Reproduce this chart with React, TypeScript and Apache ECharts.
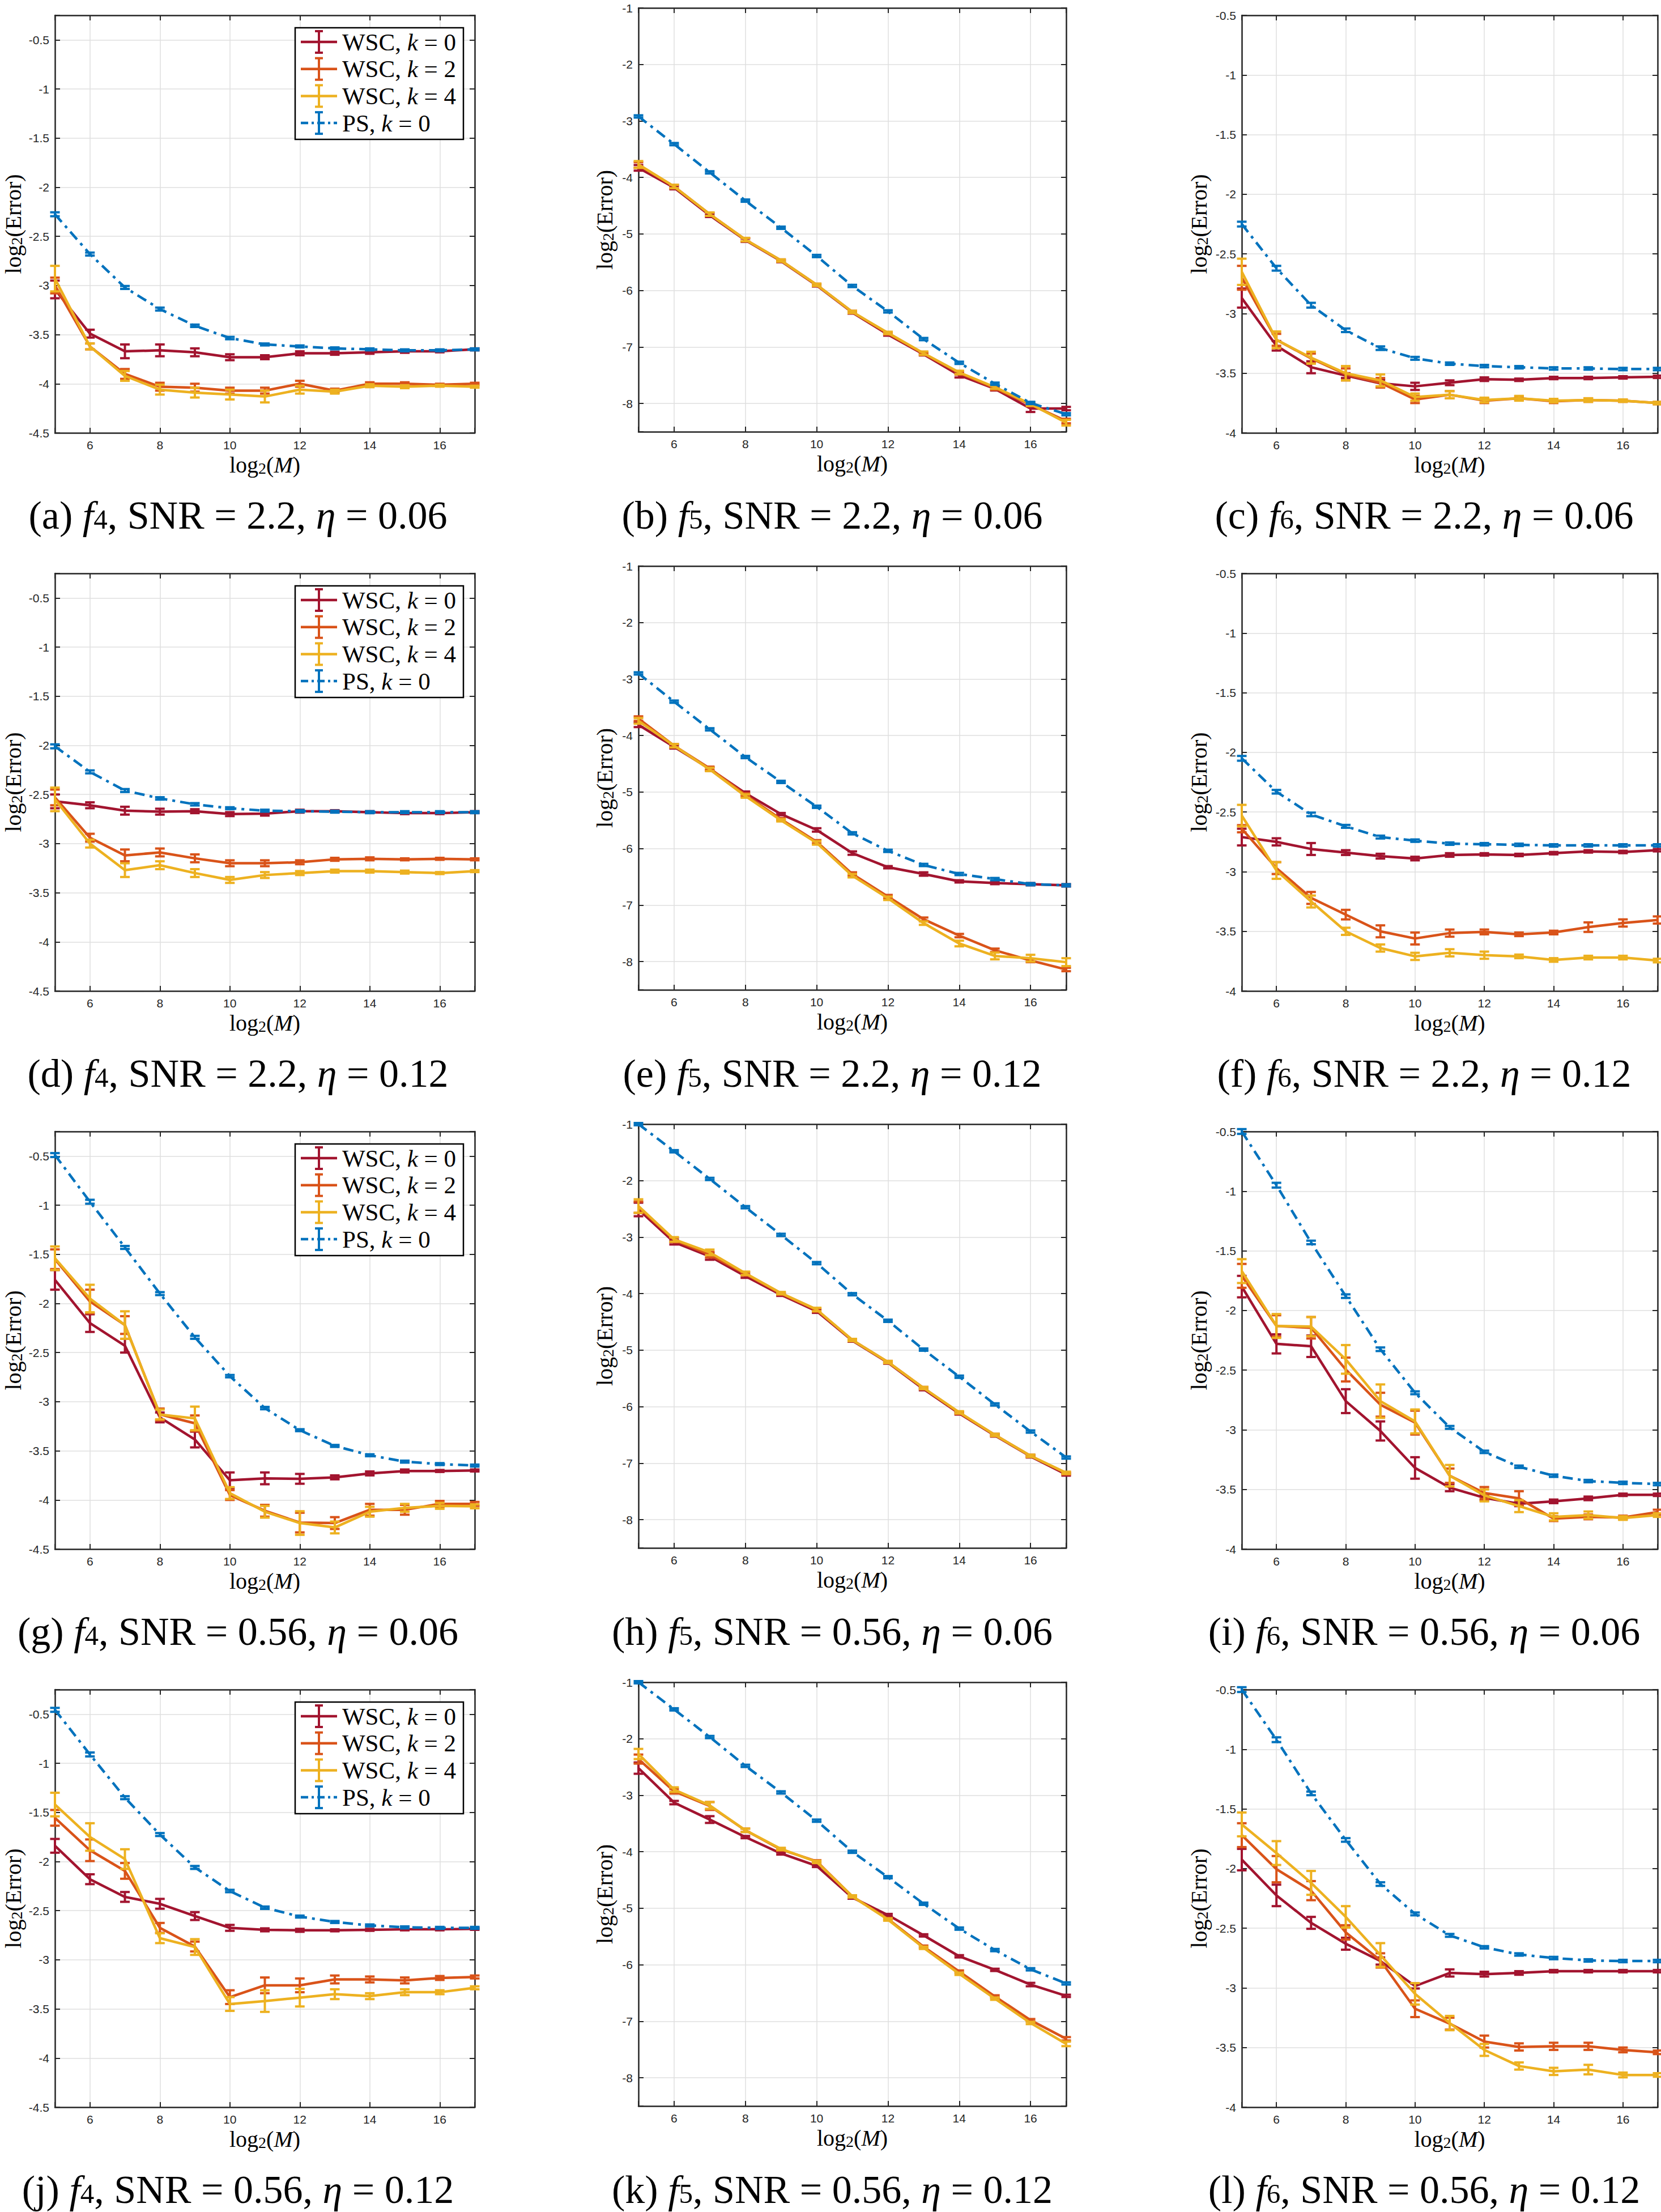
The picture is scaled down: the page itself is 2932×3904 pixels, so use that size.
import React, { useEffect, useRef } from 'react';
import * as echarts from 'echarts';

// ---------------- data ----------------
const X = [5, 6, 7, 8, 9, 10, 11, 12, 13, 14, 15, 16, 17];
const LEGEND_METHOD = ['WSC', 'WSC', 'WSC', 'PS'];
const LEGEND_K = ['0', '2', '4', '0'];
const COLORS = ['#A2142F', '#D95319', '#EDB120', '#0072BD'];
const PANEL_IDS = ['a', 'b', 'c', 'd', 'e', 'f', 'g', 'h', 'i', 'j', 'k', 'l'];
const COL_F = ['4', '5', '6'];
const ROW_SNR = ['2.2', '2.2', '0.56', '0.56'];
const ROW_ETA = ['0.06', '0.12', '0.06', '0.12'];
const X_TICK_STEP = 2;
const Y_MIN = [-4.5, -8.5, -4];
const Y_MAX = [-0.25, -1, -0.5];
const Y_TICK_STEP = [0.5, 1, 0.5];

// (a) f4, SNR 2.2, eta 0.06
const A_K0 = [-3.04, -3.49, -3.67, -3.66, -3.68, -3.73, -3.73, -3.69, -3.69, -3.68, -3.67, -3.67, -3.65];
const A_K0_E = [0.09, 0.04, 0.07, 0.06, 0.04, 0.03, 0.02, 0.02, 0.015, 0.015, 0.015, 0.01, 0.01];
const A_K2 = [-3.0, -3.62, -3.9, -4.03, -4.04, -4.07, -4.07, -4.0, -4.07, -4.0, -4.0, -4.01, -4.0];
const A_K2_E = [0.08, 0.03, 0.05, 0.04, 0.04, 0.03, 0.03, 0.03, 0.02, 0.015, 0.015, 0.01, 0.01];
const A_K4 = [-2.93, -3.62, -3.92, -4.06, -4.09, -4.11, -4.13, -4.06, -4.08, -4.02, -4.03, -4.02, -4.03];
const A_K4_E = [0.13, 0.03, 0.05, 0.05, 0.05, 0.05, 0.06, 0.04, 0.02, 0.015, 0.015, 0.01, 0.01];
const A_PS = [-2.275, -2.68, -3.02, -3.24, -3.41, -3.535, -3.6, -3.62, -3.64, -3.65, -3.66, -3.66, -3.65];
const A_PS_E = [0.02, 0.015, 0.015, 0.015, 0.012, 0.012, 0.01, 0.01, 0.01, 0.01, 0.01, 0.01, 0.01];

// (b) f5, SNR 2.2, eta 0.06
const B_K0 = [-3.83, -4.18, -4.67, -5.11, -5.48, -5.91, -6.39, -6.78, -7.13, -7.5, -7.74, -8.09, -8.09];
const B_K0_E = [0.05, 0.03, 0.03, 0.03, 0.02, 0.02, 0.02, 0.02, 0.02, 0.04, 0.03, 0.06, 0.03];
const B_K2 = [-3.78, -4.16, -4.65, -5.1, -5.47, -5.9, -6.38, -6.76, -7.12, -7.46, -7.73, -8.02, -8.31];
const B_K2_E = [0.05, 0.03, 0.03, 0.03, 0.02, 0.02, 0.02, 0.02, 0.02, 0.03, 0.03, 0.03, 0.04];
const B_K4 = [-3.77, -4.16, -4.65, -5.1, -5.47, -5.9, -6.38, -6.75, -7.11, -7.45, -7.71, -8.01, -8.34];
const B_K4_E = [0.06, 0.03, 0.03, 0.03, 0.02, 0.02, 0.02, 0.02, 0.03, 0.03, 0.03, 0.03, 0.05];
const B_PS = [-2.92, -3.41, -3.91, -4.41, -4.89, -5.39, -5.92, -6.37, -6.86, -7.28, -7.65, -7.99, -8.19];
const B_PS_E = [0.02, 0.02, 0.02, 0.02, 0.02, 0.02, 0.02, 0.02, 0.02, 0.02, 0.02, 0.02, 0.02];

// (c) f6, SNR 2.2, eta 0.06
const C_K0 = [-2.87, -3.27, -3.45, -3.52, -3.585, -3.61, -3.58, -3.55, -3.555, -3.54, -3.54, -3.535, -3.53];
const C_K0_E = [0.08, 0.04, 0.05, 0.02, 0.03, 0.03, 0.02, 0.015, 0.01, 0.01, 0.01, 0.01, 0.01];
const C_K2 = [-2.7, -3.22, -3.375, -3.51, -3.58, -3.72, -3.68, -3.73, -3.71, -3.735, -3.725, -3.73, -3.75];
const C_K2_E = [0.1, 0.05, 0.04, 0.05, 0.04, 0.03, 0.03, 0.02, 0.015, 0.015, 0.015, 0.01, 0.01];
const C_K4 = [-2.65, -3.22, -3.37, -3.5, -3.56, -3.7, -3.68, -3.725, -3.71, -3.73, -3.725, -3.73, -3.75];
const C_K4_E = [0.11, 0.07, 0.05, 0.06, 0.05, 0.03, 0.03, 0.02, 0.02, 0.015, 0.015, 0.01, 0.01];
const C_PS = [-2.25, -2.62, -2.93, -3.14, -3.29, -3.375, -3.42, -3.44, -3.45, -3.46, -3.46, -3.465, -3.465];
const C_PS_E = [0.02, 0.02, 0.02, 0.015, 0.015, 0.012, 0.01, 0.01, 0.01, 0.01, 0.01, 0.01, 0.01];

// (d) f4, SNR 2.2, eta 0.12
const D_K0 = [-2.57, -2.61, -2.665, -2.675, -2.67, -2.7, -2.695, -2.67, -2.67, -2.68, -2.69, -2.69, -2.68];
const D_K0_E = [0.07, 0.03, 0.04, 0.03, 0.02, 0.02, 0.02, 0.015, 0.01, 0.01, 0.01, 0.01, 0.01];
const D_K2 = [-2.53, -2.94, -3.12, -3.09, -3.15, -3.2, -3.2, -3.19, -3.16, -3.155, -3.16, -3.155, -3.16];
const D_K2_E = [0.08, 0.04, 0.06, 0.04, 0.04, 0.03, 0.03, 0.02, 0.015, 0.015, 0.01, 0.01, 0.01];
const D_K4 = [-2.55, -3.0, -3.27, -3.22, -3.3, -3.37, -3.32, -3.3, -3.28, -3.28, -3.29, -3.3, -3.28];
const D_K4_E = [0.12, 0.04, 0.07, 0.04, 0.04, 0.03, 0.03, 0.02, 0.015, 0.015, 0.015, 0.01, 0.01];
const D_PS = [-2.01, -2.27, -2.46, -2.54, -2.6, -2.64, -2.665, -2.67, -2.675, -2.68, -2.68, -2.68, -2.68];
const D_PS_E = [0.02, 0.015, 0.015, 0.012, 0.012, 0.01, 0.01, 0.01, 0.01, 0.01, 0.01, 0.01, 0.01];

// (e) f5, SNR 2.2, eta 0.12
const E_K0 = [-3.81, -4.2, -4.59, -5.02, -5.39, -5.67, -6.08, -6.33, -6.45, -6.58, -6.61, -6.63, -6.65];
const E_K0_E = [0.04, 0.03, 0.03, 0.03, 0.02, 0.03, 0.03, 0.02, 0.03, 0.02, 0.02, 0.02, 0.02];
const E_K2 = [-3.7, -4.18, -4.58, -5.05, -5.48, -5.88, -6.45, -6.85, -7.25, -7.54, -7.8, -7.98, -8.14];
const E_K2_E = [0.04, 0.03, 0.03, 0.03, 0.02, 0.03, 0.03, 0.03, 0.03, 0.03, 0.03, 0.03, 0.03];
const E_K4 = [-3.74, -4.18, -4.6, -5.07, -5.5, -5.9, -6.48, -6.88, -7.32, -7.68, -7.9, -7.94, -8.01];
const E_K4_E = [0.05, 0.03, 0.03, 0.03, 0.02, 0.03, 0.03, 0.03, 0.03, 0.05, 0.06, 0.06, 0.07];
const E_PS = [-2.9, -3.4, -3.89, -4.38, -4.82, -5.26, -5.73, -6.04, -6.29, -6.45, -6.54, -6.63, -6.65];
const E_PS_E = [0.02, 0.02, 0.02, 0.02, 0.02, 0.02, 0.02, 0.02, 0.02, 0.02, 0.02, 0.02, 0.02];

// (f) f6, SNR 2.2, eta 0.12
const F_K0 = [-2.71, -2.75, -2.81, -2.84, -2.87, -2.89, -2.86, -2.855, -2.86, -2.845, -2.83, -2.835, -2.82];
const F_K0_E = [0.07, 0.03, 0.05, 0.02, 0.02, 0.015, 0.015, 0.01, 0.01, 0.01, 0.01, 0.01, 0.01];
const F_K2 = [-2.64, -2.97, -3.22, -3.36, -3.5, -3.56, -3.515, -3.505, -3.525, -3.51, -3.465, -3.43, -3.405];
const F_K2_E = [0.03, 0.05, 0.05, 0.04, 0.05, 0.05, 0.03, 0.02, 0.015, 0.015, 0.04, 0.03, 0.03];
const F_K4 = [-2.53, -2.99, -3.25, -3.5, -3.64, -3.71, -3.68, -3.7, -3.71, -3.74, -3.72, -3.72, -3.745];
const F_K4_E = [0.09, 0.07, 0.05, 0.03, 0.03, 0.03, 0.03, 0.03, 0.015, 0.015, 0.015, 0.015, 0.015];
const F_PS = [-2.05, -2.33, -2.52, -2.62, -2.71, -2.74, -2.765, -2.77, -2.775, -2.78, -2.78, -2.78, -2.78];
const F_PS_E = [0.02, 0.015, 0.015, 0.012, 0.012, 0.01, 0.01, 0.01, 0.01, 0.01, 0.01, 0.01, 0.01];

// (g) f4, SNR 0.56, eta 0.06
const G_K0 = [-1.76, -2.2, -2.43, -3.16, -3.385, -3.8, -3.78, -3.785, -3.77, -3.73, -3.705, -3.705, -3.7];
const G_K0_E = [0.1, 0.09, 0.07, 0.05, 0.08, 0.08, 0.06, 0.05, 0.02, 0.02, 0.015, 0.01, 0.01];
const G_K2 = [-1.55, -1.98, -2.22, -3.13, -3.22, -3.95, -4.11, -4.23, -4.235, -4.1, -4.1, -4.04, -4.04];
const G_K2_E = [0.1, 0.12, 0.09, 0.06, 0.08, 0.05, 0.06, 0.1, 0.06, 0.06, 0.05, 0.03, 0.02];
const G_K4 = [-1.54, -1.95, -2.22, -3.13, -3.17, -3.93, -4.12, -4.235, -4.28, -4.12, -4.08, -4.06, -4.065];
const G_K4_E = [0.12, 0.14, 0.14, 0.05, 0.12, 0.06, 0.06, 0.12, 0.06, 0.05, 0.04, 0.03, 0.02];
const G_PS = [-0.49, -0.965, -1.43, -1.9, -2.345, -2.74, -3.065, -3.29, -3.45, -3.545, -3.61, -3.635, -3.65];
const G_PS_E = [0.02, 0.02, 0.015, 0.015, 0.015, 0.012, 0.012, 0.01, 0.01, 0.01, 0.01, 0.01, 0.01];

// (h) f5, SNR 0.56, eta 0.06
const H_K0 = [-2.51, -3.09, -3.34, -3.69, -4.02, -4.31, -4.83, -5.22, -5.69, -6.12, -6.51, -6.88, -7.2];
const H_K0_E = [0.12, 0.04, 0.06, 0.03, 0.02, 0.03, 0.02, 0.02, 0.02, 0.02, 0.02, 0.02, 0.02];
const H_K2 = [-2.47, -3.05, -3.31, -3.65, -4.0, -4.29, -4.82, -5.21, -5.67, -6.11, -6.5, -6.87, -7.18];
const H_K2_E = [0.1, 0.04, 0.05, 0.03, 0.02, 0.03, 0.02, 0.02, 0.02, 0.02, 0.02, 0.02, 0.02];
const H_K4 = [-2.45, -3.04, -3.27, -3.64, -3.99, -4.28, -4.82, -5.21, -5.67, -6.1, -6.5, -6.87, -7.17];
const H_K4_E = [0.12, 0.04, 0.05, 0.03, 0.02, 0.03, 0.02, 0.02, 0.02, 0.02, 0.02, 0.02, 0.02];
const H_PS = [-1.0, -1.48, -1.97, -2.47, -2.96, -3.46, -4.01, -4.48, -4.99, -5.47, -5.96, -6.44, -6.9];
const H_PS_E = [0.02, 0.02, 0.02, 0.02, 0.02, 0.02, 0.02, 0.02, 0.02, 0.02, 0.02, 0.02, 0.02];

// (i) f6, SNR 0.56, eta 0.06
const I_K0 = [-1.8, -2.28, -2.3, -2.76, -3.01, -3.32, -3.485, -3.57, -3.62, -3.6, -3.575, -3.545, -3.545];
const I_K0_E = [0.09, 0.08, 0.09, 0.1, 0.08, 0.09, 0.03, 0.02, 0.02, 0.015, 0.015, 0.01, 0.01];
const I_K2 = [-1.71, -2.13, -2.145, -2.495, -2.79, -2.94, -3.385, -3.53, -3.575, -3.745, -3.73, -3.735, -3.69];
const I_K2_E = [0.1, 0.09, 0.09, 0.1, 0.1, 0.1, 0.06, 0.05, 0.06, 0.02, 0.02, 0.015, 0.02];
const I_K4 = [-1.67, -2.13, -2.135, -2.41, -2.76, -2.93, -3.385, -3.55, -3.64, -3.73, -3.715, -3.74, -3.715];
const I_K4_E = [0.1, 0.1, 0.08, 0.12, 0.14, 0.1, 0.09, 0.05, 0.05, 0.03, 0.03, 0.015, 0.015];
const I_PS = [-0.5, -0.95, -1.43, -1.88, -2.325, -2.69, -2.98, -3.185, -3.31, -3.385, -3.43, -3.445, -3.455];
const I_PS_E = [0.02, 0.02, 0.015, 0.015, 0.015, 0.012, 0.012, 0.01, 0.01, 0.01, 0.01, 0.01, 0.01];

// (j) f4, SNR 0.56, eta 0.12
const J_K0 = [-1.84, -2.18, -2.36, -2.43, -2.555, -2.675, -2.695, -2.7, -2.7, -2.695, -2.69, -2.69, -2.685];
const J_K0_E = [0.07, 0.05, 0.05, 0.05, 0.04, 0.03, 0.015, 0.015, 0.01, 0.01, 0.01, 0.01, 0.01];
const J_K2 = [-1.555, -1.885, -2.095, -2.675, -2.865, -3.38, -3.26, -3.26, -3.2, -3.2, -3.21, -3.185, -3.175];
const J_K2_E = [0.08, 0.11, 0.08, 0.05, 0.05, 0.07, 0.08, 0.07, 0.04, 0.03, 0.03, 0.02, 0.015];
const J_K4 = [-1.42, -1.75, -1.975, -2.78, -2.87, -3.45, -3.42, -3.385, -3.35, -3.37, -3.33, -3.33, -3.285];
const J_K4_E = [0.12, 0.14, 0.1, 0.05, 0.08, 0.07, 0.11, 0.09, 0.05, 0.03, 0.03, 0.02, 0.015];
const J_PS = [-0.456, -0.91, -1.35, -1.725, -2.06, -2.3, -2.47, -2.56, -2.615, -2.65, -2.67, -2.675, -2.675];
const J_PS_E = [0.02, 0.02, 0.015, 0.015, 0.015, 0.012, 0.012, 0.01, 0.01, 0.01, 0.01, 0.01, 0.01];

// (k) f5, SNR 0.56, eta 0.12
const K_K0 = [-2.52, -3.13, -3.43, -3.74, -4.03, -4.25, -4.81, -5.12, -5.48, -5.85, -6.09, -6.35, -6.55];
const K_K0_E = [0.1, 0.03, 0.06, 0.02, 0.02, 0.02, 0.02, 0.02, 0.02, 0.02, 0.02, 0.03, 0.02];
const K_K2 = [-2.36, -2.93, -3.19, -3.62, -3.96, -4.17, -4.79, -5.19, -5.68, -6.12, -6.56, -6.98, -7.31];
const K_K2_E = [0.08, 0.04, 0.07, 0.03, 0.02, 0.02, 0.02, 0.02, 0.02, 0.02, 0.02, 0.02, 0.03];
const K_K4 = [-2.27, -2.9, -3.18, -3.62, -3.95, -4.18, -4.79, -5.2, -5.7, -6.16, -6.6, -7.03, -7.4];
const K_K4_E = [0.09, 0.04, 0.06, 0.03, 0.02, 0.02, 0.02, 0.02, 0.02, 0.02, 0.02, 0.02, 0.04];
const K_PS = [-1.0, -1.48, -1.97, -2.48, -2.95, -3.45, -4.0, -4.45, -4.92, -5.36, -5.74, -6.08, -6.33];
const K_PS_E = [0.02, 0.02, 0.02, 0.02, 0.02, 0.02, 0.02, 0.02, 0.02, 0.02, 0.02, 0.02, 0.02];

// (l) f6, SNR 0.56, eta 0.12
const L_K0 = [-1.925, -2.225, -2.455, -2.63, -2.775, -2.985, -2.875, -2.885, -2.875, -2.86, -2.86, -2.86, -2.86];
const L_K0_E = [0.09, 0.09, 0.05, 0.05, 0.03, 0.02, 0.03, 0.02, 0.015, 0.01, 0.01, 0.01, 0.01];
const L_K2 = [-1.72, -2.005, -2.185, -2.535, -2.77, -3.175, -3.3, -3.45, -3.495, -3.49, -3.49, -3.52, -3.54];
const L_K2_E = [0.1, 0.11, 0.08, 0.06, 0.06, 0.07, 0.05, 0.05, 0.03, 0.03, 0.03, 0.02, 0.015];
const L_K4 = [-1.63, -1.87, -2.12, -2.405, -2.725, -3.05, -3.295, -3.52, -3.655, -3.7, -3.685, -3.73, -3.73];
const L_K4_E = [0.1, 0.1, 0.1, 0.09, 0.1, 0.09, 0.06, 0.05, 0.03, 0.03, 0.04, 0.02, 0.015];
const L_PS = [-0.5, -0.92, -1.37, -1.76, -2.13, -2.38, -2.56, -2.66, -2.72, -2.75, -2.77, -2.775, -2.775];
const L_PS_E = [0.02, 0.02, 0.015, 0.015, 0.015, 0.012, 0.012, 0.01, 0.01, 0.01, 0.01, 0.01, 0.01];

const PANEL_VALUES = [
  [A_K0, A_K2, A_K4, A_PS], [B_K0, B_K2, B_K4, B_PS], [C_K0, C_K2, C_K4, C_PS],
  [D_K0, D_K2, D_K4, D_PS], [E_K0, E_K2, E_K4, E_PS], [F_K0, F_K2, F_K4, F_PS],
  [G_K0, G_K2, G_K4, G_PS], [H_K0, H_K2, H_K4, H_PS], [I_K0, I_K2, I_K4, I_PS],
  [J_K0, J_K2, J_K4, J_PS], [K_K0, K_K2, K_K4, K_PS], [L_K0, L_K2, L_K4, L_PS],
];
const PANEL_ERRORS = [
  [A_K0_E, A_K2_E, A_K4_E, A_PS_E], [B_K0_E, B_K2_E, B_K4_E, B_PS_E], [C_K0_E, C_K2_E, C_K4_E, C_PS_E],
  [D_K0_E, D_K2_E, D_K4_E, D_PS_E], [E_K0_E, E_K2_E, E_K4_E, E_PS_E], [F_K0_E, F_K2_E, F_K4_E, F_PS_E],
  [G_K0_E, G_K2_E, G_K4_E, G_PS_E], [H_K0_E, H_K2_E, H_K4_E, H_PS_E], [I_K0_E, I_K2_E, I_K4_E, I_PS_E],
  [J_K0_E, J_K2_E, J_K4_E, J_PS_E], [K_K0_E, K_K2_E, K_K4_E, K_PS_E], [L_K0_E, L_K2_E, L_K4_E, L_PS_E],
];

// ---------------- layout & style ----------------
const W = 2932;
const H = 3904;
const COL_LEFT = [97, 1127, 2192];
const COL_RIGHT = [838, 1882, 2926];
const COL_TOP = [27, 14, 27];
const COL_BOTTOM = [764, 762, 764];
const ROW_PITCH = 985;
const NAME_LH = 40;
const YNAME_GAP = [54, 40, 56];
const XNAME_GAP = 36;
const CAPTION_X = [420, 1469, 2514];
const CAPTION_Y0 = 909;
const LEGEND_W = 297;
const LEGEND_H = 197;
const LEGEND_ROW = 47.7;

const SERIF = '"Liberation Serif", "Times New Roman", Times, serif';
const SANS = '"Liberation Sans", Arial, Helvetica, sans-serif';
const AX = '#262626';
const GRID_C = '#dfdfdf';
const LINE_W = 4.5;
const ERR_W = 4;
const CAP_HALF = 8.5;
const PS_DASH = [18, 9, 5, 9];

const stepFormatter = (step: number) => (v: number) => {
  const r = v / step;
  return Math.abs(r - Math.round(r)) < 1e-6 ? String(Math.round(v * 100) / 100) : '';
};

const nameRich = (size: number) => ({
  t: { fontSize: size, lineHeight: NAME_LH, fontFamily: SERIF, color: '#000' },
  i: { fontSize: size, lineHeight: NAME_LH, fontFamily: SERIF, fontStyle: 'italic', color: '#000' },
  s: { fontSize: 28, lineHeight: 14, fontFamily: SERIF, color: '#000', verticalAlign: 'bottom' },
});

function errRender(color: string) {
  return (params: any, api: any) => {
    const x = api.value(0);
    const y = api.value(1);
    const e = api.value(2);
    const top = api.coord([x, y + e]);
    const bot = api.coord([x, y - e]);
    const style = { stroke: color, lineWidth: ERR_W, fill: 'none' };
    return {
      type: 'group',
      children: [
        { type: 'line', shape: { x1: top[0], y1: top[1], x2: bot[0], y2: bot[1] }, style },
        { type: 'line', shape: { x1: top[0] - CAP_HALF, y1: top[1], x2: top[0] + CAP_HALF, y2: top[1] }, style },
        { type: 'line', shape: { x1: bot[0] - CAP_HALF, y1: bot[1], x2: bot[0] + CAP_HALF, y2: bot[1] }, style },
      ],
    };
  };
}

function legendGroup(left: number, top: number) {
  const children: any[] = [
    {
      type: 'rect',
      shape: { x: 0, y: 0, width: LEGEND_W, height: LEGEND_H },
      style: { fill: '#fff', stroke: '#000', lineWidth: 2.5 },
      z: 100,
    },
  ];
  LEGEND_METHOD.forEach((m, i) => {
    const cy = 25 + i * LEGEND_ROW;
    const c = COLORS[i];
    children.push({
      type: 'line',
      shape: { x1: 10, y1: cy, x2: 74, y2: cy },
      style: { stroke: c, lineWidth: LINE_W, lineDash: i === 3 ? [13, 6, 4, 6] : null },
      z: 101,
    });
    children.push({ type: 'line', shape: { x1: 42, y1: cy - 19, x2: 42, y2: cy + 19 }, style: { stroke: c, lineWidth: ERR_W }, z: 101 });
    children.push({ type: 'line', shape: { x1: 35, y1: cy - 19, x2: 49, y2: cy - 19 }, style: { stroke: c, lineWidth: ERR_W }, z: 101 });
    children.push({ type: 'line', shape: { x1: 35, y1: cy + 19, x2: 49, y2: cy + 19 }, style: { stroke: c, lineWidth: ERR_W }, z: 101 });
    children.push({
      type: 'text',
      x: 83,
      y: cy,
      z: 101,
      style: {
        text: `{n|${m}, }{i|k}{n| = ${LEGEND_K[i]}}`,
        align: 'left',
        verticalAlign: 'middle',
        rich: {
          n: { fontSize: 43, fontFamily: SERIF, fill: '#000', lineHeight: 48 },
          i: { fontSize: 43, fontFamily: SERIF, fontStyle: 'italic', fill: '#000', lineHeight: 48 },
        },
      },
    });
  });
  return { type: 'group', x: left, y: top, children };
}

function buildOption() {
  const grid: any[] = [];
  const xAxis: any[] = [];
  const yAxis: any[] = [];
  const series: any[] = [];
  const graphic: any[] = [];

  PANEL_IDS.forEach((id, p) => {
    const col = p % 3;
    const row = Math.floor(p / 3);
    const left = COL_LEFT[col];
    const top = COL_TOP[col] + ROW_PITCH * row;
    const width = COL_RIGHT[col] - COL_LEFT[col];
    const height = COL_BOTTOM[col] - COL_TOP[col];
    grid.push({ left, top, width, height, outerBoundsMode: 'none', containLabel: false, show: false });

    const xCommon = {
      type: 'value',
      gridIndex: p,
      min: X[0],
      max: X[X.length - 1],
      splitNumber: 6,
      minInterval: X_TICK_STEP,
      maxInterval: X_TICK_STEP,
      axisLine: { show: true, onZero: false, lineStyle: { color: AX, width: 2.5 } },
      axisTick: { show: true, inside: true, length: 9, lineStyle: { color: AX, width: 2 } },
    };
    xAxis.push({
      ...xCommon,
      position: 'bottom',
      axisLabel: { show: true, margin: 11, fontSize: 21, fontFamily: SANS, color: AX, formatter: stepFormatter(X_TICK_STEP) },
      splitLine: { show: true, lineStyle: { color: GRID_C, width: 1.5 } },
      name: '{t|log}{s|2}{t|(}{i|M}{t|)}',
      nameLocation: 'middle',
      nameGap: XNAME_GAP,
      nameTextStyle: { rich: nameRich(40) },
    });
    xAxis.push({
      ...xCommon,
      position: 'top',
      axisLabel: { show: false },
      splitLine: { show: false },
    });

    const yCommon = {
      type: 'value',
      gridIndex: p,
      min: Y_MIN[col],
      max: Y_MAX[col],
      splitNumber: col === 1 ? 7 : 8,
      minInterval: Y_TICK_STEP[col],
      maxInterval: Y_TICK_STEP[col],
      axisLine: { show: true, onZero: false, lineStyle: { color: AX, width: 2.5 } },
      axisTick: { show: true, inside: true, length: 9, lineStyle: { color: AX, width: 2 } },
    };
    yAxis.push({
      ...yCommon,
      position: 'left',
      axisLabel: { show: true, margin: 10, fontSize: 21, fontFamily: SANS, color: AX, formatter: stepFormatter(Y_TICK_STEP[col]) },
      splitLine: { show: true, lineStyle: { color: GRID_C, width: 1.5 } },
      name: '{t|log}{s|2}{t|(Error)}',
      nameLocation: 'middle',
      nameRotate: 90,
      nameGap: YNAME_GAP[col],
      nameTextStyle: { rich: nameRich(40) },
    });
    yAxis.push({
      ...yCommon,
      position: 'right',
      axisLabel: { show: false },
      splitLine: { show: false },
    });

    const vals = PANEL_VALUES[p];
    const errs = PANEL_ERRORS[p];
    vals.forEach((v, s) => {
      const name = `${LEGEND_METHOD[s]}, k = ${LEGEND_K[s]}`;
      series.push({
        type: 'line',
        name,
        xAxisIndex: 2 * p,
        yAxisIndex: 2 * p,
        data: X.map((x, i) => [x, v[i]]),
        symbol: 'none',
        showSymbol: false,
        silent: true,
        z: 3 + s,
        lineStyle: { color: COLORS[s], width: LINE_W, type: s === 3 ? PS_DASH : 'solid', cap: 'butt' },
        itemStyle: { color: COLORS[s] },
      });
      series.push({
        type: 'custom',
        name,
        xAxisIndex: 2 * p,
        yAxisIndex: 2 * p,
        data: X.map((x, i) => [x, v[i], errs[s][i]]),
        encode: { x: 0, y: 1 },
        renderItem: errRender(COLORS[s]),
        silent: true,
        clip: false,
        z: 3 + s,
      });
    });

    graphic.push({
      type: 'text',
      x: CAPTION_X[col],
      y: CAPTION_Y0 + ROW_PITCH * row,
      style: {
        text: `{n|(${id}) }{i|f}{s|${COL_F[col]}}{n|, SNR = ${ROW_SNR[row]}, }{i|η}{n| = ${ROW_ETA[row]}}`,
        align: 'center',
        verticalAlign: 'middle',
        rich: {
          n: { fontSize: 70, fontFamily: SERIF, fill: '#000', lineHeight: 64 },
          i: { fontSize: 70, fontFamily: SERIF, fontStyle: 'italic', fill: '#000', lineHeight: 64 },
          s: { fontSize: 49, fontFamily: SERIF, fill: '#000', lineHeight: 28, verticalAlign: 'bottom' },
        },
      },
    });

    if (col === 0) {
      graphic.push(legendGroup(COL_RIGHT[0] - 20 - LEGEND_W, top + 22));
    }
  });

  return {
    animation: false,
    backgroundColor: '#ffffff',
    grid,
    xAxis,
    yAxis,
    series,
    graphic,
  };
}

export default function App() {
  const ref = useRef<HTMLDivElement>(null);
  useEffect(() => {
    if (!ref.current) return;
    const chart = echarts.init(ref.current, null, { renderer: 'svg' });
    chart.setOption(buildOption() as any);
    return () => chart.dispose();
  }, []);
  return (
    <div
      ref={ref}
      style={{ position: 'absolute', left: 0, top: 0, width: W, height: H, background: '#fff' }}
    />
  );
}
